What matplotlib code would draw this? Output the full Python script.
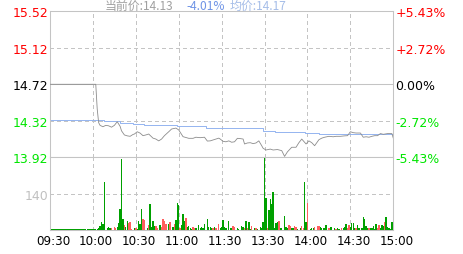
import matplotlib
matplotlib.use("Agg")
import matplotlib.pyplot as plt
import matplotlib.transforms as mtransforms

W, H = 463, 255

# minutes counted from 09:30 (0) to 15:00 (240), lunch break removed
price_min = [0, 32, 33, 34, 35, 37, 39, 41, 43, 45,
             47, 49, 50, 52, 54, 56, 58, 59, 61, 63,
             65, 67, 69, 72, 74, 76, 78, 80, 83, 85,
             88, 90, 93, 97, 100, 102, 105, 108, 110, 112,
             114, 118, 119, 121, 123, 125, 127, 129, 131, 133,
             135, 136, 138, 140, 142, 144, 146, 148, 149, 151,
             154, 156, 159, 162, 164, 166, 169, 172, 174, 176,
             179, 181, 183, 185, 188, 190, 192, 195, 198, 200,
             203, 206, 208, 210, 212, 214, 217, 219, 221, 223,
             225, 227, 229, 231, 233, 236, 239, 240]
price_val = [14.72, 14.72, 14.45, 14.30, 14.27, 14.255, 14.27, 14.265, 14.25, 14.27,
             14.31, 14.26, 14.21, 14.165, 14.155, 14.15, 14.17, 14.175, 14.20, 14.185,
             14.157, 14.165, 14.175, 14.13, 14.12, 14.10, 14.12, 14.157, 14.20, 14.23,
             14.24, 14.22, 14.146, 14.128, 14.128, 14.14, 14.135, 14.14, 14.098, 14.10,
             14.11, 14.13, 14.12, 14.095, 14.09, 14.10, 14.085, 14.09, 14.128, 14.125,
             14.12, 14.066, 14.077, 14.08, 14.07, 14.077, 14.10, 14.047, 14.019, 14.00,
             14.01, 14.00, 14.005, 13.993, 13.93, 13.98, 14.03, 14.03, 14.08, 14.12,
             14.066, 14.10, 14.08, 14.047, 14.113, 14.13, 14.14, 14.15, 14.145, 14.15,
             14.15, 14.155, 14.157, 14.20, 14.19, 14.186, 14.186, 14.14, 14.145, 14.14,
             14.15, 14.157, 14.157, 14.18, 14.172, 14.18, 14.18, 14.13]

avg_min = [0, 38, 49, 58, 66, 89, 109, 139, 149, 157, 178, 188, 240]
avg_val = [14.325, 14.315, 14.293, 14.282, 14.271, 14.26, 14.244, 14.238,
           14.21, 14.197, 14.183, 14.172, 14.172]

vol_min = [0, 1, 2, 3, 4, 5, 6, 7, 8, 9,
           10, 11, 12, 13, 14, 15, 16, 17, 18, 19,
           20, 21, 22, 23, 24, 25, 26, 27, 28, 29,
           30, 31, 32, 33, 34, 35, 36, 37, 38, 40,
           41, 42, 43, 45, 46, 47, 48, 49, 50, 51,
           52, 53, 54, 55, 56, 57, 59, 60, 61, 62,
           63, 64, 65, 66, 68, 69, 70, 71, 72, 73,
           74, 75, 77, 78, 79, 80, 81, 83, 84, 86,
           87, 88, 89, 90, 91, 92, 93, 94, 95, 96,
           97, 98, 99, 100, 101, 102, 104, 105, 106, 107,
           108, 110, 111, 112, 113, 114, 115, 116, 118, 119,
           120, 121, 122, 123, 125, 126, 127, 128, 129, 131,
           132, 134, 135, 136, 137, 138, 139, 140, 141, 143,
           144, 145, 147, 148, 149, 150, 151, 152, 153, 154,
           155, 156, 157, 158, 159, 160, 161, 162, 164, 165,
           166, 167, 168, 169, 170, 171, 172, 173, 175, 176,
           177, 178, 179, 180, 182, 183, 184, 185, 187, 188,
           189, 190, 191, 192, 193, 195, 196, 197, 199, 200,
           201, 202, 204, 205, 206, 207, 208, 209, 210, 211,
           212, 213, 214, 215, 216, 218, 219, 220, 221, 222,
           223, 224, 225, 226, 227, 228, 229, 230, 231, 232,
           233, 234, 235, 236, 237, 238, 239]
vol_val = [4, 4, 4, 4, 4, 4, 4, 4, 4, 4,
           4, 4, 4, 4, 4, 4, 4, 4, 4, 4,
           4, 4, 4, 4, 4, 4, 4, 4, 4, 4,
           4, 4, 4, 4, 8, 15, 31, 23, 184, 8,
           12, 8, 8, 12, 8, 12, 27, 81, 272, 42,
           19, 12, 35, 27, 31, 4, 8, 8, 4, 35,
           23, 81, 42, 38, 8, 19, 100, 12, 35, 15,
           15, 8, 19, 12, 42, 35, 23, 23, 31, 12,
           23, 38, 104, 96, 8, 19, 61, 35, 46, 12,
           15, 8, 4, 12, 8, 8, 19, 8, 12, 8,
           23, 42, 12, 12, 8, 8, 12, 8, 23, 8,
           12, 38, 12, 8, 35, 8, 8, 15, 12, 8,
           4, 15, 12, 8, 35, 8, 31, 4, 15, 8,
           8, 4, 12, 8, 31, 278, 123, 8, 77, 119,
           100, 146, 8, 27, 31, 35, 8, 8, 54, 12,
           8, 19, 15, 8, 8, 15, 12, 4, 8, 15,
           8, 184, 31, 104, 4, 8, 8, 12, 15, 15,
           12, 8, 8, 8, 19, 8, 12, 12, 8, 4,
           8, 4, 8, 8, 12, 23, 8, 19, 12, 27,
           27, 8, 8, 19, 8, 8, 50, 42, 15, 8,
           8, 8, 8, 15, 4, 23, 8, 19, 8, 19,
           15, 31, 50, 12, 8, 4, 31]
vol_col = ("gggggggggg" "gggggggggg" "gggggggggg" "gggggggggg"
           "ggrrrggggg" "rggrrrgrgg" "ggrrgrgggg" "rrgrrrrgrg"
           "rgggrgggrg" "gggrrggggg" "gggggrgrrg" "gggggggrrg"
           "gggrgrggrg" "rggggggrgg" "gggggrgggg" "grrggrrggr"
           "rggrgggrrr" "gggggrgggr" "ggrgggrrgg" "ggrggggggg"
           "rgggggrrgg" "grggggg")
assert len(vol_min) == len(vol_val) == len(vol_col)

left_ticks = [13.92, 14.32, 14.72, 15.12, 15.52]
left_labels = ["13.92", "14.32", "14.72", "15.12", "15.52"]
right_labels = ["-5.43%", "-2.72%", "0.00%", "+2.72%", "+5.43%"]
label_colors = ["#00e600", "#00e600", "#000000", "#ff0000", "#ff0000"]
time_ticks = [0, 30, 60, 90, 120, 150, 180, 210, 240]
time_labels = ["09:30", "10:00", "10:30", "11:00", "11:30",
               "13:30", "14:00", "14:30", "15:00"]

grid_c = "#c4c4c4"
dash = (0, (3, 3))


def box(x0, y0, x1, y1):
    return [x0 / W, 1 - y1 / H, (x1 - x0) / W, (y1 - y0) / H]


fig = plt.figure(figsize=(W / 100, H / 100), dpi=100)
axp = fig.add_axes(box(50, 12.3, 393.3, 158.3))
axv = fig.add_axes(box(50, 158.3, 393.3, 231))

for ax in (axp, axv):
    ax.set_xlim(0, 240)
    for s in ax.spines.values():
        s.set_color(grid_c)
        s.set_linewidth(0.75)
    for t in time_ticks[1:-1]:
        ax.axvline(t, color=grid_c, lw=0.75, ls=dash, zorder=0, antialiased=False)
    ax.tick_params(length=0)

# price pane
axp.set_ylim(13.92, 15.52)
axp.axhline(15.12, color=grid_c, lw=0.75, ls=dash, zorder=0, antialiased=False)
axp.axhline(14.32, color=grid_c, lw=0.75, ls=dash, zorder=0, antialiased=False)
axp.axhline(14.72, color=grid_c, lw=0.75, zorder=0)
axp.plot(avg_min, avg_val, color="#94b4f0", lw=0.7, drawstyle="steps-post", zorder=2)
axp.plot(price_min, price_val, color="#8c8c8c", lw=0.6, zorder=3)
axp.set_xticks([])
axp.set_yticks(left_ticks)
axp.set_yticklabels(left_labels, fontsize=9)
axp.tick_params(axis="y", pad=1)
for lab, c in zip(axp.get_yticklabels(), label_colors):
    lab.set_color(c)

axr = axp.twinx()
axr.set_ylim(13.92, 15.52)
axr.set_yticks(left_ticks)
axr.set_yticklabels(right_labels, fontsize=9)
axr.tick_params(length=0, pad=1.5)
for s in axr.spines.values():
    s.set_visible(False)
for lab, c in zip(axr.get_yticklabels(), label_colors):
    lab.set_color(c)

# volume pane
axv.set_ylim(0, 280)
axv.axhline(140, color=grid_c, lw=0.75, ls=dash, zorder=0, antialiased=False)
bar_colors = ["#00a000" if c == "g" else "#ff5f5f" for c in vol_col]
axv.bar(vol_min, vol_val, width=0.95, color=bar_colors, linewidth=0,
        antialiased=False, zorder=2)
axv.set_yticks([140])
axv.set_yticklabels(["140"], fontsize=9, color="#c0c0c0")
axv.tick_params(axis="y", pad=1)
axv.set_xticks(time_ticks)
axv.set_xticklabels(time_labels, fontsize=8.6)
axv.tick_params(axis="x", pad=3)
shift = mtransforms.ScaledTranslation(3 / 100, 0, fig.dpi_scale_trans)
for lab in axv.get_xticklabels():
    lab.set_transform(lab.get_transform() + shift)

# header line
cjk = ["Noto Sans CJK SC", "DejaVu Sans"]
fig.text(105 / W, 1 - 6 / H, "当前价:14.13", color="#a0a0a0", fontsize=8.6,
         family=cjk, va="center")
fig.text(186 / W, 1 - 6 / H, "-4.01%", color="#6f94e6", fontsize=8.6,
         family=cjk, va="center")
fig.text(230 / W, 1 - 6 / H, "均价:14.17", color="#a5bde8", fontsize=8.6,
         family=cjk, va="center")

fig.savefig("out.png", dpi=100)
